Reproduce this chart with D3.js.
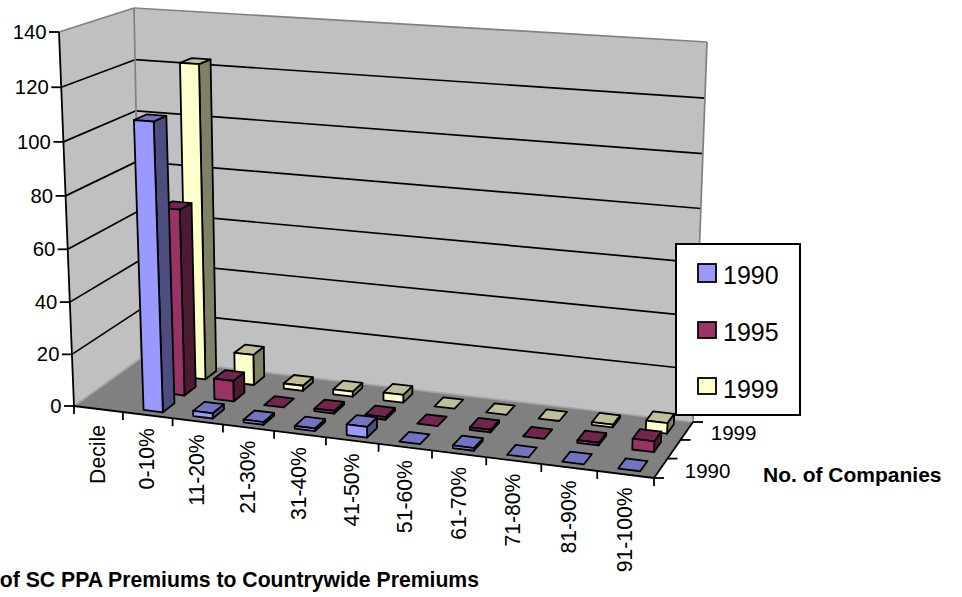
<!DOCTYPE html>
<html>
<head>
<meta charset="utf-8">
<script src="https://cdn.jsdelivr.net/npm/d3@7"></script>
<style>
html,body{margin:0;padding:0;background:#fff;overflow:hidden}
svg{display:block}
text{font-family:"Liberation Sans",Arial,sans-serif;fill:#000}
</style>
</head>
<body>
<svg id="chart" width="962" height="597"></svg>
<script>
// Distribution of companies by premium-ratio decile, three survey years
const categories = ["Decile","0-10%","11-20%","21-30%","31-40%","41-50%","51-60%","61-70%","71-80%","81-90%","91-100%"];
const seriesNames = ["1990","1995","1999"];
const values1990 = [0,109,2,1,1,4,0,1,0,0,0];
const values1995 = [0,72,8,0,1,1,0,1,0,1,4];
const values1999 = [0,123,12,2,2,3,0,0,0,1,4];
const yTicks = [0,20,40,60,80,100,120,140];
const depthLabels = ["1990","","1999"];
const faceFront = ["#9999ff","#993366","#ffffcc"];
const faceTop = ["#7373bf","#73264d","#bfbf99"];
const faceSide = ["#4d4d80","#4d1a33","#808066"];
const seriesValues = [values1990,values1995,values1999];

// Corner anchors of the oblique box, floor plane and top plane
const floorQuad = {p00:[74,406],p10:[654,478],p11:[693,422],p01:[141,358]};
const topQuad = {p00:[59,32],p10:[674,72],p11:[707,42],p01:[134,8]};
const heightBow = 1.04;

function squareToQuad(q){
  const [x0,y0]=q.p00,[x1,y1]=q.p10,[x2,y2]=q.p11,[x3,y3]=q.p01;
  const dx1=x1-x2,dx2=x3-x2,sx=x0-x1+x2-x3,dy1=y1-y2,dy2=y3-y2,sy=y0-y1+y2-y3;
  const det=dx1*dy2-dx2*dy1;
  const g=(sx*dy2-dx2*sy)/det,h=(dx1*sy-sx*dy1)/det;
  const a=[x1-x0+g*x1,y1-y0+g*y1,g],b=[x3-x0+h*x3,y3-y0+h*y3,h];
  return (u,v)=>{
    const z=a[2]*u+b[2]*v+1;
    return [(a[0]*u+b[0]*v+x0)/z,(a[1]*u+b[1]*v+y0)/z];
  };
}
const floorAt=squareToQuad(floorQuad),topAt=squareToQuad(topQuad);
// Position of a box coordinate: u along categories, v into depth, w up
function project(u,v,w){
  const f=floorAt(u,v),t=topAt(u,v);
  const s=w/(w+(1-w)*heightBow);
  return [f[0]+(t[0]-f[0])*s,f[1]+(t[1]-f[1])*s];
}

const uScale=d3.scaleBand().domain(categories).range([0,1]).padding(0);
const vScale=d3.scaleBand().domain(seriesNames).range([0,1]).padding(0);
const wScale=d3.scaleLinear().domain([0,140]).range([0,1]);
const line=d3.line();
const svg=d3.select("#chart");

function poly(pts,fill,stroke,width){
  return svg.append("path").attr("d",line(pts)+"Z").attr("fill",fill)
    .attr("stroke",stroke).attr("stroke-width",width).attr("stroke-linejoin","round");
}
function seg(a,b,stroke,width){
  return svg.append("line").attr("x1",a[0]).attr("y1",a[1]).attr("x2",b[0]).attr("y2",b[1])
    .attr("stroke",stroke).attr("stroke-width",width);
}

// Walls and floor
poly([project(0,0,0),project(0,1,0),project(0,1,1),project(0,0,1)],"#c0c0c0","none",0);
poly([project(0,1,0),project(1,1,0),project(1,1,1),project(0,1,1)],"#c0c0c0","none",0);
poly([project(0,0,0),project(1,0,0),project(1,1,0),project(0,1,0)],"#808080","none",0);

// Gridlines on both walls
yTicks.slice(1,-1).forEach(t=>{
  const w=wScale(t);
  seg(project(0,0,w),project(0,1,w),"#000",1.7);
  seg(project(0,1,w),project(1,1,w),"#000",1.7);
});

// Wall edges
const edge="#808080";
seg(project(0,0,1),project(0,1,1),edge,1.7);
seg(project(0,1,1),project(1,1,1),edge,1.7);
seg(project(0,1,0),project(0,1,1),edge,1.7);
seg(project(1,1,0),project(1,1,1),edge,1.7);
seg(project(0,0,0),project(0,1,0),"#a6a6a6",1.7);
seg(project(0,1,0),project(1,1,0),"#a6a6a6",1.7);

// Axis frame
seg(project(0,0,0),project(0,0,1),"#000",1.8);
seg(project(0,0,0),project(1,0,0),"#000",1.8);
seg(project(1,0,0),project(1,1,0),"#000",1.8);

// Value axis
yTicks.forEach(t=>{
  const p=project(0,0,wScale(t));
  seg([p[0]-10,p[1]],p,"#000",1.8);
  svg.append("text").attr("x",p[0]-12.5).attr("y",p[1]).attr("text-anchor","end")
    .attr("dominant-baseline","central").attr("font-size",20.3).text(t);
});

// Category axis
d3.range(categories.length+1).forEach(i=>{
  const p=project(i/categories.length,0,0);
  seg(p,[p[0],p[1]+8],"#000",1.8);
});
categories.forEach(c=>{
  const p=project(uScale(c)+uScale.bandwidth()/2,0,0);
  const drop=c==="Decile"?16:13;
  svg.append("text").attr("transform",`translate(${p[0]-1},${p[1]+drop}) rotate(-90)`)
    .attr("text-anchor","end").attr("dominant-baseline","central").attr("font-size",21.2).text(c);
});

// Depth axis
d3.range(seriesNames.length+1).forEach(i=>{
  const p=project(1,i/seriesNames.length,0);
  seg(p,[p[0]+10,p[1]],"#000",1.8);
});
seriesNames.forEach((s,i)=>{
  if(!depthLabels[i])return;
  const p=project(1,vScale(s)+vScale.bandwidth()/2,0);
  svg.append("text").attr("x",p[0]+24).attr("y",p[1]+2).attr("dominant-baseline","central")
    .attr("font-size",20.5).text(depthLabels[i]);
});

// Bars: rear series first so nearer ones overlap them
const barFrac=0.39,barDepthFrac=0.53,barShift=0.0005;
d3.range(seriesNames.length-1,-1,-1).forEach(si=>{
  categories.forEach((c,ci)=>{
    const val=seriesValues[si][ci];
    if(c==="Decile")return;
    const bw=uScale.bandwidth(),dw=vScale.bandwidth();
    const u0=uScale(c)+bw*(1-barFrac)/2+barShift,u1=u0+bw*barFrac;
    const v0=vScale(seriesNames[si])+dw*(1-barDepthFrac)/2,v1=v0+dw*barDepthFrac;
    const w=wScale(val);
    const sw=1.8;
    if(val>0){
      poly([project(u1,v0,0),project(u1,v1,0),project(u1,v1,w),project(u1,v0,w)],faceSide[si],"#000",sw);
    }
    poly([project(u0,v0,w),project(u1,v0,w),project(u1,v1,w),project(u0,v1,w)],faceTop[si],"#000",sw);
    if(val>0){
      poly([project(u0,v0,0),project(u1,v0,0),project(u1,v0,w),project(u0,v0,w)],faceFront[si],"#000",sw);
    }
  });
});

// Legend
svg.append("rect").attr("x",676).attr("y",244).attr("width",124).attr("height",171)
  .attr("fill","#fff").attr("stroke","#000").attr("stroke-width",2);
const legendSwatchY=[264,322,378],legendTextY=[284,341,398],legendSwatchH=[18,16,16];
seriesNames.forEach((s,i)=>{
  svg.append("rect").attr("x",698).attr("y",legendSwatchY[i]).attr("width",18).attr("height",legendSwatchH[i])
    .attr("fill",faceFront[i]).attr("stroke","#000").attr("stroke-width",1.8);
  svg.append("text").attr("x",723).attr("y",legendTextY[i]).attr("font-size",25).text(s);
});

// Axis titles
svg.append("text").attr("x",763).attr("y",482).attr("font-size",21).attr("font-weight","bold").text("No. of Companies");
svg.append("text").attr("x",479).attr("y",587).attr("text-anchor","end").attr("font-size",21.2).attr("font-weight","bold")
  .text("of SC PPA Premiums to Countrywide Premiums");
</script>
</body>
</html>
